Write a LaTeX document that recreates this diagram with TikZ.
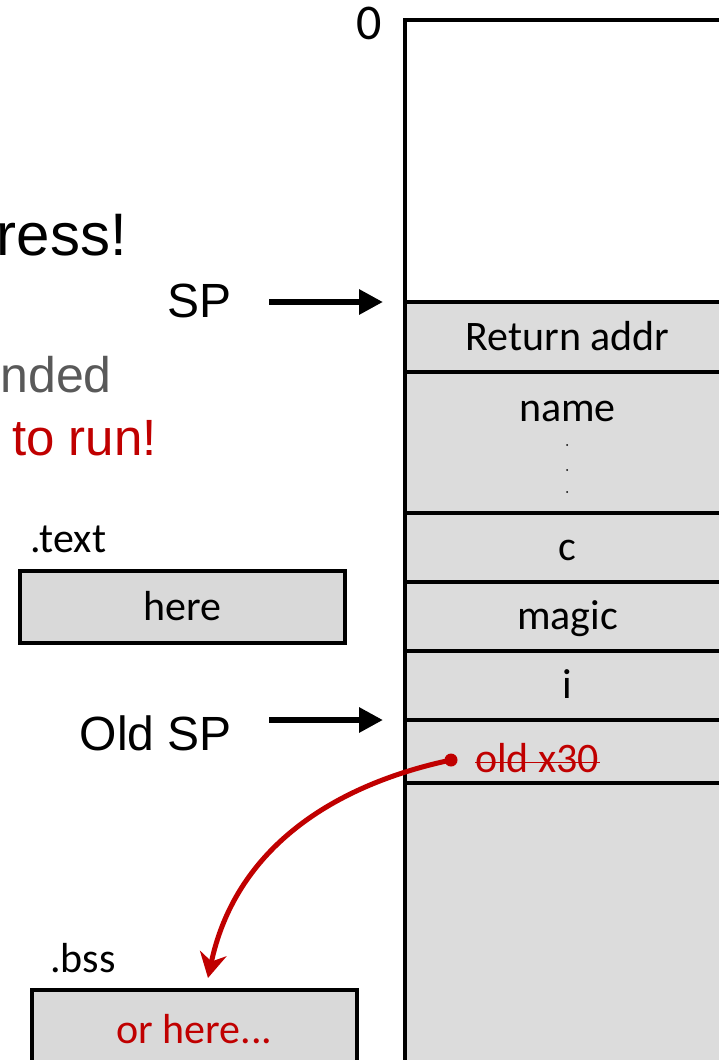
\documentclass[tikz,border=0pt]{standalone}
\usepackage{fontspec}
\setmainfont{Carlito}
\newfontfamily\slidefont{Liberation Sans}
\usetikzlibrary{arrows.meta, positioning}
\definecolor{cellfill}{RGB}{220, 220, 220}
\definecolor{boxfill}{RGB}{217, 217, 217}
\definecolor{alert}{RGB}{192, 0, 0}
\definecolor{muted}{RGB}{89, 89, 89}
\tikzstyle{cell} = [rectangle, draw=black, line width=4pt, fill=cellfill, minimum width=325pt, inner sep=0pt, outer sep=0pt, anchor=north, font=\fontsize{42}{50}\selectfont, text height=28pt, text depth=2pt]
\tikzstyle{segbox} = [rectangle, draw=black, line width=4pt, fill=boxfill, minimum width=325pt, minimum height=72pt, inner sep=0pt, outer sep=0pt, anchor=north west, font=\fontsize{42}{50}\selectfont, text height=28pt, text depth=2pt]
\tikzstyle{seglabel} = [anchor=base west, inner sep=0pt, font=\fontsize{42}{50}\selectfont]
\tikzstyle{reg} = [anchor=east, inner sep=0pt, font=\slidefont\fontsize{48}{56}\selectfont]
\tikzstyle{ptr} = [line width=6pt, -{Triangle[length=24pt, width=24pt]}]

\begin{document}
\begin{tikzpicture}[x=1pt, y=-1pt]
    \useasboundingbox (0,0) rectangle (718,1060);

    % Cut-off slide text
    \node[reg, anchor=base east, font=\slidefont\fontsize{60}{66}\selectfont] (address) at (127,255) {ress!};
    \node[reg, anchor=base east, text=muted, font=\slidefont\fontsize{50}{56}\selectfont] (ended) at (112,392) {nded};
    \node[reg, anchor=base east, text=alert, font=\slidefont\fontsize{51}{56}\selectfont] (torun) at (157,455) {to run!};

    % Stack frame
    \node[cell, fill=white, minimum height=282pt] (topcell) at (567.5,20) {};
    \node[cell, minimum height=70pt] (retcell) at (567.5,302) {Return addr};
    \node[cell, minimum height=141pt] (namecell) at (567.5,372) {};
    \node[cell, minimum height=69pt] (ccell) at (567.5,513) {c};
    \node[cell, minimum height=69pt] (magiccell) at (567.5,582) {magic};
    \node[cell, minimum height=69pt] (icell) at (567.5,651) {i};
    \node[cell, minimum height=63pt] (oldcell) at (567.5,720) {};
    \node[cell, minimum height=320pt] (restcell) at (567.5,783) {};

    \node[seglabel, anchor=base east, font=\fontsize{50}{54}\selectfont] (zero) at (382,39) {0};

    % name buffer
    \node[seglabel, anchor=base] (namelbl) at ([yshift=-49pt]namecell.north) {name};
    \foreach \y in {445,470,492}
        \node[circle, fill=black, inner sep=0pt, minimum size=2pt] (dot\y) at (567,\y) {};

    % Saved x30, struck out
    \node[seglabel, text=alert] (oldtxt) at (475,772) {old x30};
    \draw[alert, line width=1.5pt] ([yshift=9.5pt]oldtxt.base west) -- ([yshift=9.5pt]oldtxt.base east);
    \node[circle, fill=alert, inner sep=0pt, minimum size=13pt] (olddot) at (451,760) {};

    % Stack pointers
    \node[reg] (splbl) at (232,301) {SP};
    \node[reg] (oldsplbl) at (232,733) {Old SP};
    \draw[ptr, shorten >=22pt] (retcell.north west -| splbl.east) ++(37pt,0) -- (retcell.north west);
    \draw[ptr, shorten >=22pt] (oldcell.north west -| oldsplbl.east) ++(37pt,0) -- (oldcell.north west);

    % Sections
    \node[segbox] (textbox) at (20,571) {here};
    \node[seglabel] (textlbl) at ([xshift=10pt, yshift=19pt]textbox.north west) {.text};
    \node[segbox, minimum height=80pt, text=alert] (bssbox) at (32,990) {or here...};
    \node[seglabel] (bsslbl) at ([xshift=18pt, yshift=18pt]bssbox.north west) {.bss};

    % Jump target
    \coordinate (bsstip) at (208,978);
    \draw[alert, line width=5pt, -{Stealth[length=25pt, width=27pt]}] (olddot.center) to[out=192, in=78] (bsstip);
\end{tikzpicture}
\end{document}
